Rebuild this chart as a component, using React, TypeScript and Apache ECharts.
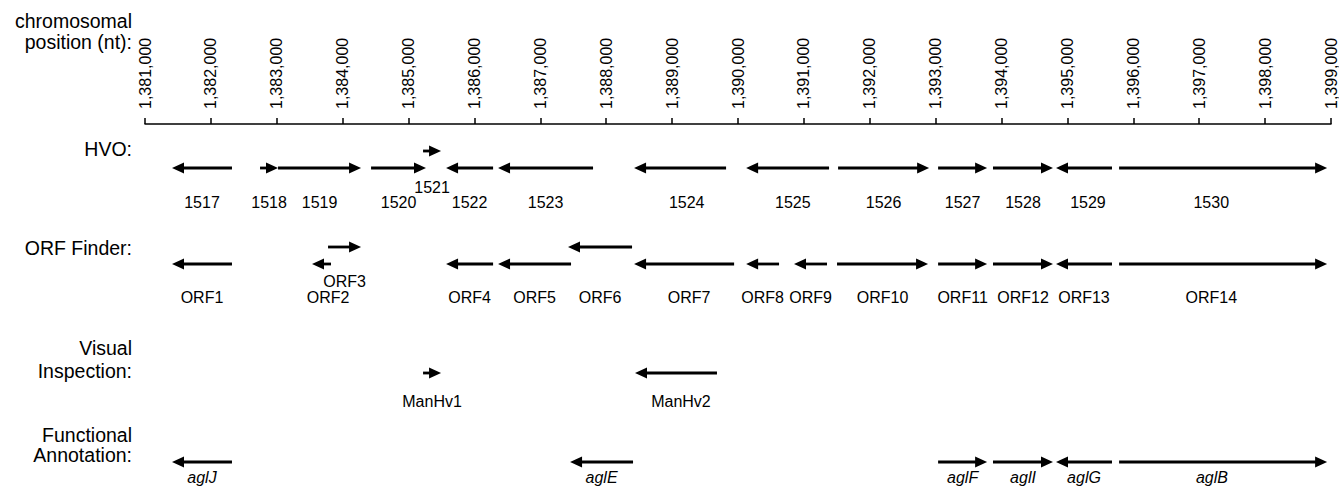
import React, { useEffect, useRef } from "react";
import * as echarts from "echarts";

// ---------- data ----------
const axisMin = 1381000;
const axisMax = 1399000;
const axisStep = 1000;

const axisTitle = ["chromosomal", "position (nt):"];
const trackTitles = [["HVO:"], ["ORF Finder:"], ["Visual", "Inspection:"], ["Functional", "Annotation:"]];

const hvoNames = ["1517", "1518", "1519", "1520", "1521", "1522", "1523", "1524", "1525", "1526", "1527", "1528", "1529", "1530"];
const hvoStart = [1381410, 1382746, 1383019, 1384431, 1385220, 1385569, 1386358, 1388423, 1390123, 1391519, 1393037, 1393870, 1394826, 1395784];
const hvoEnd = [1382320, 1383019, 1384279, 1385265, 1385493, 1386283, 1387800, 1389819, 1391382, 1392901, 1393781, 1394781, 1395676, 1398941];
const hvoStrand = [-1, 1, 1, 1, 1, -1, -1, -1, -1, 1, 1, 1, -1, 1];

const orfNames = ["ORF1", "ORF2", "ORF3", "ORF4", "ORF5", "ORF6", "ORF7", "ORF8", "ORF9", "ORF10", "ORF11", "ORF12", "ORF13", "ORF14"];
const orfStart = [1381410, 1383535, 1383778, 1385569, 1386358, 1387420, 1388423, 1390123, 1390850, 1391503, 1393037, 1393870, 1394826, 1395784];
const orfEnd = [1382320, 1383823, 1384279, 1386283, 1387466, 1388392, 1389941, 1390623, 1391351, 1392885, 1393781, 1394781, 1395676, 1398941];
const orfStrand = [-1, -1, 1, -1, -1, -1, -1, -1, -1, 1, 1, 1, -1, 1];

const visualNames = ["ManHv1", "ManHv2"];
const visualStart = [1385220, 1388437];
const visualEnd = [1385493, 1389681];
const visualStrand = [1, -1];

const funcNames = ["aglJ", "aglE", "aglF", "aglI", "aglG", "aglB"];
const funcStart = [1381410, 1387451, 1393037, 1393870, 1394826, 1395784];
const funcEnd = [1382320, 1388407, 1393781, 1394781, 1395676, 1398941];
const funcStrand = [-1, -1, 1, 1, -1, 1];

const upperLaneGenes = ["1521", "ORF3", "ORF6"];
const raisedLabelGenes = ["1521", "ORF3"];

// label centre shift from gene midpoint, in nt
const labelShiftGenes = ["1530", "ORF14", "aglB", "1524", "ORF7", "ORF2", "1525", "ManHv2", "1529"];
const labelShiftNt = [-180, -180, -170, 100, 75, 100, 80, 75, 60];

// ---------- layout / style ----------
const FONT = "'Liberation Sans', Helvetica, Arial, sans-serif";
const GRID_TOP = 124;
const GRID_H = 362;
const trackY = [44, 140, 249, 338]; // below axis line
const upperLift = 17;
const labelDrop = [34, 33, 28, 15];
const raisedLabelDrop = [19, 17, 0, 0];
const HEAD_LEN = 12;
const HEAD_HALF = 5.5;
const SHAFT_W = 2.8;

const tracks = [
  { names: hvoNames, start: hvoStart, end: hvoEnd, strand: hvoStrand, italic: false },
  { names: orfNames, start: orfStart, end: orfEnd, strand: orfStrand, italic: false },
  { names: visualNames, start: visualStart, end: visualEnd, strand: visualStrand, italic: false },
  { names: funcNames, start: funcStart, end: funcEnd, strand: funcStrand, italic: true },
];

function makeSeries(trackIndex: number) {
  const t = tracks[trackIndex];
  const data = t.names.map((n, i) => {
    const si = labelShiftGenes.indexOf(n);
    return {
      name: n,
      value: [
        t.start[i],
        t.end[i],
        t.strand[i],
        upperLaneGenes.includes(n) ? 1 : 0,
        raisedLabelGenes.includes(n) ? 1 : 0,
        (t.start[i] + t.end[i]) / 2 + (si >= 0 ? labelShiftNt[si] : 0),
      ],
    };
  });
  return {
    type: "custom",
    coordinateSystem: "cartesian2d",
    data,
    silent: true,
    renderItem: (params: any, api: any) => {
      const start = api.value(0);
      const end = api.value(1);
      const strand = api.value(2);
      const upper = api.value(3);
      const raised = api.value(4);
      const labelAt = api.value(5);
      const laneV = trackY[trackIndex] - (upper ? upperLift : 0);
      const p0 = api.coord([start, laneV]);
      const p1 = api.coord([end, laneV]);
      const y = p0[1];
      const dir = strand > 0 ? 1 : -1;
      const tipX = dir > 0 ? p1[0] : p0[0];
      const tailX = dir > 0 ? p0[0] : p1[0];
      const baseX = tipX - dir * HEAD_LEN;
      const labelV = trackY[trackIndex] + (raised ? raisedLabelDrop[trackIndex] : labelDrop[trackIndex]);
      const lp = api.coord([labelAt, labelV]);
      const name = t.names[params.dataIndex];
      const children: any[] = [];
      if (Math.abs(baseX - tailX) > 0.5 && (baseX - tailX) * dir > 0) {
        children.push({
          type: "line",
          shape: { x1: tailX, y1: y, x2: baseX + dir * 1, y2: y },
          style: { stroke: "#000", lineWidth: SHAFT_W },
        });
      }
      children.push({
        type: "polygon",
        shape: { points: [[tipX, y], [baseX, y - HEAD_HALF], [baseX, y + HEAD_HALF]] },
        style: { fill: "#000" },
      });
      children.push({
        type: "text",
        x: lp[0],
        y: lp[1],
        style: {
          text: name,
          fill: "#000",
          font: `${t.italic ? "italic " : ""}16px ${FONT}`,
          fontSize: 16,
          fontFamily: FONT,
          fontStyle: t.italic ? "italic" : "normal",
          align: "center",
          verticalAlign: "middle",
          textAlign: "center",
          textVerticalAlign: "middle",
        },
      });
      return { type: "group", children };
    },
  };
}

function titleText(text: string, y: number) {
  return {
    type: "text",
    x: 132,
    y,
    silent: true,
    style: {
      text,
      fill: "#000",
      fontSize: 19.5,
      fontFamily: FONT,
      font: `19.5px ${FONT}`,
      align: "right",
      verticalAlign: "middle",
      textAlign: "right",
      textVerticalAlign: "middle",
    },
  };
}

export default function App() {
  const ref = useRef<HTMLDivElement>(null);
  useEffect(() => {
    if (!ref.current) return;
    const chart = echarts.init(ref.current, undefined, { renderer: "svg" });
    const titleY = [[149], [248], [348, 371], [435, 455]];
    const graphics: any[] = [titleText(axisTitle[0], 21), titleText(axisTitle[1], 42)];
    trackTitles.forEach((lines, i) => lines.forEach((ln, j) => graphics.push(titleText(ln, titleY[i][j]))));
    chart.setOption({
      animation: false,
      backgroundColor: "#fff",
      grid: { left: 145, right: 8, top: GRID_TOP, height: GRID_H, containLabel: false, outerBoundsMode: "none" },
      xAxis: {
        type: "value",
        position: "top",
        min: axisMin,
        max: axisMax,
        interval: axisStep,
        splitLine: { show: false },
        axisLine: { show: true, lineStyle: { color: "#000", width: 1.5 } },
        axisTick: { show: true, length: 6, lineStyle: { color: "#000", width: 1.5 } },
        axisLabel: {
          rotate: 90,
          margin: 15,
          fontSize: 16,
          fontFamily: FONT,
          color: "#000",
          formatter: (v: number) => v.toLocaleString("en-US"),
        },
      },
      yAxis: { type: "value", min: 0, max: GRID_H, inverse: true, show: false },
      graphic: graphics,
      series: [0, 1, 2, 3].map(makeSeries),
    });
    return () => chart.dispose();
  }, []);
  return (
    <div
      ref={ref}
      style={{ position: "absolute", left: 0, top: 0, width: 1339, height: 486, background: "#fff" }}
    />
  );
}
